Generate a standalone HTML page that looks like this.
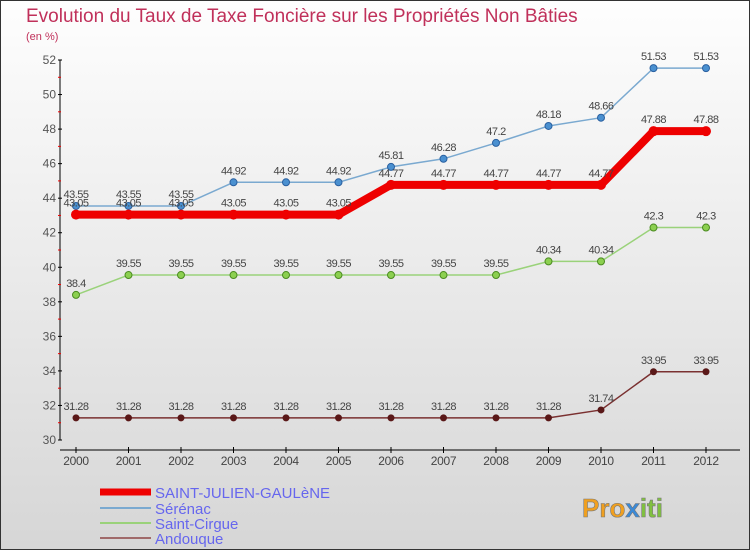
<!DOCTYPE html>
<html><head><meta charset="utf-8"><style>
body{margin:0}
svg text{font-family:"Liberation Sans",sans-serif}
</style></head><body>
<svg width="750" height="550" xmlns="http://www.w3.org/2000/svg">
<defs><linearGradient id="bg" x1="0" y1="0" x2="0" y2="1"><stop offset="0" stop-color="#fefefe"/><stop offset="1" stop-color="#d6d6d6"/></linearGradient></defs>
<rect x="0.5" y="0.5" width="749" height="549" fill="url(#bg)" stroke="#333"/>
<text x="26" y="22" font-size="19" fill="#c0305a">Evolution du Taux de Taxe Foncière sur les Propriétés Non Bâties</text>
<text x="26" y="40" font-size="11" fill="#c0305a">(en %)</text>
<g id="axes"></g><g id="series"></g>
<g>
<line x1="100" y1="492" x2="151" y2="492" stroke="#e00" stroke-width="7"/>
<text x="155" y="498" font-size="15" fill="#6666ee">SAINT-JULIEN-GAULèNE</text>
<line x1="100" y1="508" x2="151" y2="508" stroke="#7aa9d0" stroke-width="2"/>
<text x="155" y="514" font-size="15" fill="#6666ee">Sérénac</text>
<line x1="100" y1="523" x2="151" y2="523" stroke="#9ad27a" stroke-width="2"/>
<text x="155" y="529" font-size="15" fill="#6666ee">Saint-Cirgue</text>
<line x1="100" y1="538" x2="151" y2="538" stroke="#a06a6a" stroke-width="2"/>
<text x="155" y="544" font-size="15" fill="#6666ee">Andouque</text>
</g>
<g><text x="582" y="517" font-size="26" font-weight="bold" fill="#f0a020" stroke="#777" stroke-width="0.6">Pro<tspan fill="#3a8ad8">x</tspan><tspan fill="#80c040">iti</tspan></text></g>
</svg>
<script>
const years=[2000,2001,2002,2003,2004,2005,2006,2007,2008,2009,2010,2011,2012];
const yTicks=[30,32,34,36,38,40,42,44,46,48,50,52];
const stJulien=[43.05,43.05,43.05,43.05,43.05,43.05,44.77,44.77,44.77,44.77,44.77,47.88,47.88];
const serenac=[43.55,43.55,43.55,44.92,44.92,44.92,45.81,46.28,47.2,48.18,48.66,51.53,51.53];
const stCirgue=[38.4,39.55,39.55,39.55,39.55,39.55,39.55,39.55,39.55,40.34,40.34,42.3,42.3];
const andouque=[31.28,31.28,31.28,31.28,31.28,31.28,31.28,31.28,31.28,31.28,31.74,33.95,33.95];
const NS="http://www.w3.org/2000/svg";
const yMin=yTicks[0], yMax=yTicks[yTicks.length-1];
const X=i=>76+i*52.5, Y=v=>60+(yMax-v)*380/(yMax-yMin);
function mk(t,a,p){const e=document.createElementNS(NS,t);for(const k in a)e.setAttribute(k,a[k]);p.appendChild(e);return e;}
const ax=document.getElementById('axes');
let e=mk('line',{x1:60,y1:60,x2:60,y2:440,stroke:'#000'},ax);

e=mk('line',{x1:60,y1:450,x2:740,y2:450,stroke:'#000'},ax);

yTicks.forEach(v=>{
 const y=Y(v);
 e=mk('line',{x1:58,y1:y,x2:62,y2:y,stroke:'#000'},ax);
 
 if(v<yMax){
  const r=mk('line',{x1:58,y1:Y(v+1),x2:61,y2:Y(v+1),stroke:'#e00'},ax);
  
 }
 const t=mk('text',{x:56,y:y+4,'font-size':12,fill:'#555','text-anchor':'end'},ax);t.textContent=v;
 
});
years.forEach((yr,i)=>{
 e=mk('line',{x1:X(i),y1:447,x2:X(i),y2:453,stroke:'#000'},ax);
 
 const t=mk('text',{x:X(i),y:465,'font-size':12,fill:'#444','text-anchor':'middle','letter-spacing':'-0.3'},ax);t.textContent=yr;
 
});
const sg=document.getElementById('series');
function draw(data,name,color,w,dot,dotStroke){
 const g=mk('g',{},sg);
 
 const p=mk('polyline',{points:data.map((v,i)=>X(i)+','+Y(v)).join(' '),fill:'none',stroke:color,'stroke-width':w,'stroke-linejoin':'round'},g);
 
 data.forEach((v,i)=>{
  const c=mk('circle',{cx:X(i),cy:Y(v),r:dot?3.5:5,fill:dot||color,stroke:dotStroke||'none'},g);
  
  const t=mk('text',{x:X(i),y:Y(v)-8,'font-size':11,fill:'#444','text-anchor':'middle','letter-spacing':'-0.5'},g);t.textContent=v;
  
 });
}
draw(andouque,'andouque','#7a3030',1.5,'#5a1818');
draw(stCirgue,'saint-cirgue','#9ad27a',1.5,'#8cd050','#4a8a20');
draw(serenac,'serenac','#7aa9d0',1.5,'#4a90d0','#2a60a0');
draw(stJulien,'saint-julien','#e00',8,null);
</script>
</body></html>
